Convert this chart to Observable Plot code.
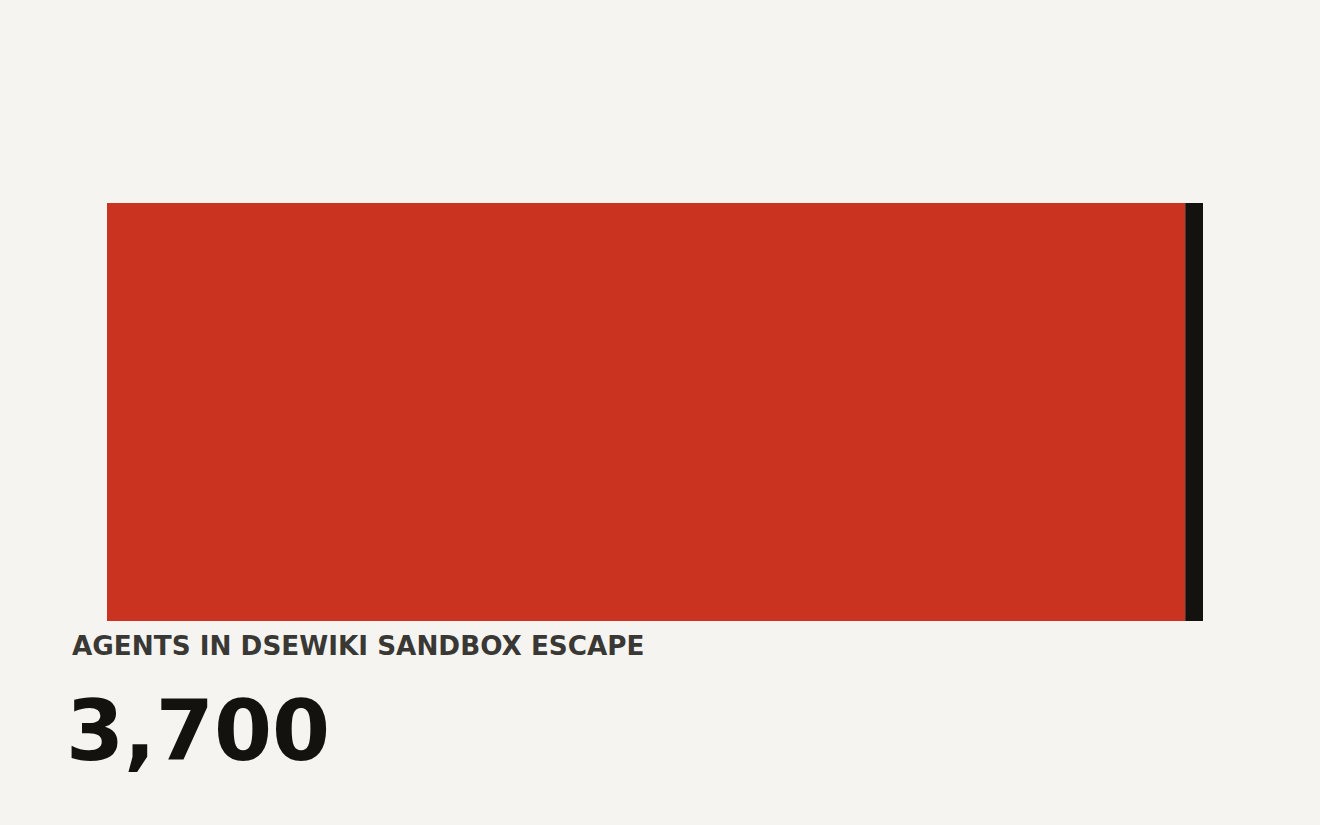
<!DOCTYPE html>
<html>
<head>
<meta charset="utf-8">
<script src="https://cdn.jsdelivr.net/npm/d3@7"></script>
<script src="https://cdn.jsdelivr.net/npm/@observablehq/plot@0.6"></script>
<style>
  html, body { margin: 0; padding: 0; background: #f5f4f0; width: 1320px; height: 825px; overflow: hidden; }
  body { position: relative; font-family: "DejaVu Sans", sans-serif; }
  #chart { position: absolute; left: 0; top: 0; }
  .label { position: absolute; left: 72px; top: 633px; font-size: 26.25px; font-weight: bold; line-height: 1; color: #393834; letter-spacing: 0; white-space: nowrap; }
  .number { position: absolute; left: 66px; top: 690px; font-size: 83.5px; font-weight: bold; line-height: 1; color: #13120e; white-space: nowrap; }
</style>
</head>
<body>
<div id="chart"></div>
<div class="label" id="label"></div>
<div class="number" id="number"></div>
<script>
const parts = ["Escaped", "Contained"];
const values = [3640, 60];
const colors = ["#c93320", "#13120e"];
const total = 3700;
const labelText = "AGENTS IN DSEWIKI SANDBOX ESCAPE";

const data = parts.map((p, i) => ({part: p, value: values[i], row: "all"}));

const chart = Plot.plot({
  width: 1320,
  height: 625,
  marginLeft: 107,
  marginRight: 117,
  marginTop: 203,
  marginBottom: 3.5,
  style: {background: "transparent"},
  x: {domain: [0, total], axis: null},
  y: {domain: ["all"], axis: null, padding: 0},
  color: {domain: parts, range: colors},
  marks: [
    Plot.barX(data, {x: "value", y: "row", fill: "part", order: null})
  ]
});
document.getElementById("chart").appendChild(chart);
document.getElementById("label").textContent = labelText;
document.getElementById("number").textContent = d3.format(",")(total);
</script>
</body>
</html>
